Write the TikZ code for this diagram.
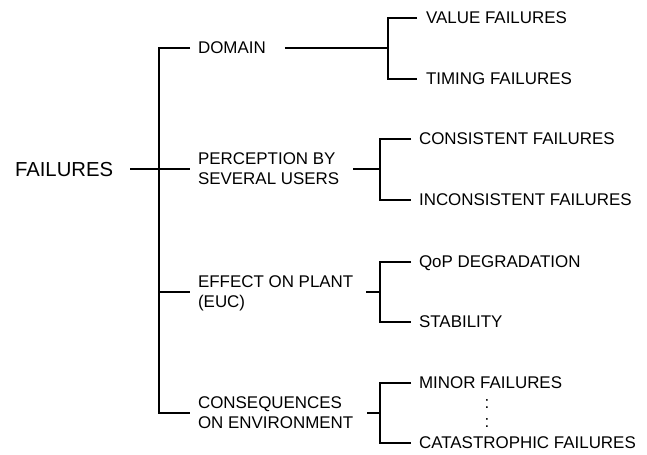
\documentclass[tikz,border=0pt]{standalone}
\usepackage{fontspec}
\setmainfont{Liberation Sans}
\usetikzlibrary{calc}
\begin{document}
\begin{tikzpicture}[x=0.75pt,y=-0.75pt, line width=1.6pt, line join=miter,
  lbl/.style={inner sep=0pt, anchor=west, align=left, text depth=0pt, font=\fontsize{12.7}{15}\selectfont},
  big/.style={lbl, font=\fontsize{15.2}{18}\selectfont},
  dots/.style={inner sep=0pt, font=\fontsize{12.7}{15}\selectfont}]
\useasboundingbox (0,0) rectangle (647,454);
% nodes
\node[big] (root) at (14,169) {FAILURES};
\node[lbl] (c1) at (197,48) {DOMAIN};
\node[lbl] (c2) at (197,169) {PERCEPTION BY\\SEVERAL USERS};
\node[lbl] (c3) at (197,292) {EFFECT ON PLANT\\(EUC)};
\node[lbl] (c4) at (197,413) {CONSEQUENCES\\ON ENVIRONMENT};
\node[lbl] (l11) at (425,18) {VALUE FAILURES};
\node[lbl] (l12) at (425,79) {TIMING FAILURES};
\node[lbl] (l21) at (418,139) {CONSISTENT FAILURES};
\node[lbl] (l22) at (418,200) {INCONSISTENT FAILURES};
\node[lbl] (l31) at (418,262) {QoP DEGRADATION};
\node[lbl] (l32) at (418,322) {STABILITY};
\node[lbl] (l41) at (418,383) {MINOR FAILURES};
\node[lbl] (l42) at (418,443) {CATASTROPHIC FAILURES};
\node[dots] (dot1) at (487,404) {:};
\node[dots] (dot2) at (487,423) {:};
% bus coordinates
\coordinate (bus) at (159,0);
\coordinate (s1) at (388,0);
\coordinate (s2) at (380,0);
% main tree
\draw ($(root.east)+(16,0)$) -- ($(c2.west)+(-7,0)$);
\draw ($(c1.west)+(-7,0)$) -| (bus |- c4.west) -- ($(c4.west)+(-7,0)$);
\draw (bus |- c3.west) -- ($(c3.west)+(-7,0)$);
% domain
\draw ($(c1.east)+(18,0)$) -- (s1 |- c1.east);
\draw ($(l11.west)+(-8,0)$) -| (s1 |- l12.west) -- ($(l12.west)+(-8,0)$);
% perception
\draw ($(c2.east)+(13,0)$) -- (s2 |- c2.east);
\draw ($(l21.west)+(-7,0)$) -| (s2 |- l22.west) -- ($(l22.west)+(-7,0)$);
% effect
\draw ($(c3.east)+(12,0)$) -- (s2 |- c3.east);
\draw ($(l31.west)+(-7,0)$) -| (s2 |- l32.west) -- ($(l32.west)+(-7,0)$);
% consequences
\draw ($(c4.east)+(13,0)$) -- (s2 |- c4.east);
\draw ($(l41.west)+(-7,0)$) -| (s2 |- l42.west) -- ($(l42.west)+(-7,0)$);
\end{tikzpicture}
\end{document}
